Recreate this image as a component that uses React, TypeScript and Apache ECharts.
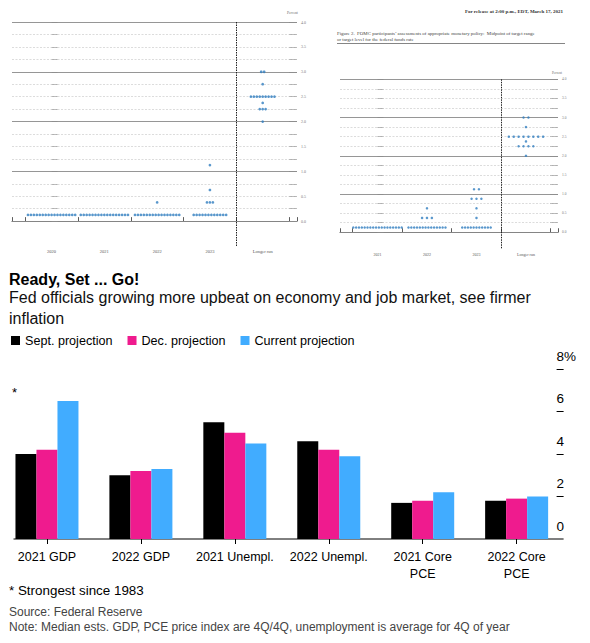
import React, { useEffect, useRef } from 'react';
import * as echarts from 'echarts';

// ---------- Top-left dot plot (December 2020 projections) ----------
const dec2020Categories = ['2020', '2021', '2022', '2023', 'Longer run'];
// [category index, rate midpoint, number of participants]
const dec2020Dots: number[][] = [
  [0, 0.125, 17],
  [1, 0.125, 17],
  [2, 0.125, 16], [2, 0.375, 1],
  [3, 0.125, 12], [3, 0.375, 3], [3, 0.625, 1], [3, 1.125, 1],
  [4, 2.0, 1], [4, 2.25, 3], [4, 2.375, 1], [4, 2.5, 9], [4, 2.75, 1], [4, 3.0, 2],
];

// ---------- Top-right dot plot (March 2021 projections) ----------
const mar2021Categories = ['2021', '2022', '2023', 'Longer run'];
const mar2021Dots: number[][] = [
  [0, 0.125, 18],
  [1, 0.125, 14], [1, 0.375, 3], [1, 0.625, 1],
  [2, 0.125, 11], [2, 0.375, 1], [2, 0.625, 1], [2, 0.875, 3], [2, 1.125, 2],
  [3, 2.0, 1], [3, 2.25, 4], [3, 2.375, 1], [3, 2.5, 8], [3, 2.75, 1], [3, 3.0, 2],
];

const rateTicks = [0, 0.25, 0.5, 0.75, 1, 1.25, 1.5, 1.75, 2, 2.25, 2.5, 2.75, 3, 3.25, 3.5, 3.75, 4];
const rateLabels = [0, 0.5, 1, 1.5, 2, 2.5, 3, 3.5, 4];

// ---------- Bar chart ----------
const barCategories = ['2021 GDP', '2022 GDP', '2021 Unempl.', '2022 Unempl.', '2021 Core\nPCE', '2022 Core\nPCE'];
const septProjection = [4.0, 3.0, 5.5, 4.6, 1.7, 1.8];
const decProjection = [4.2, 3.2, 5.0, 4.2, 1.8, 1.9];
const currentProjection = [6.5, 3.3, 4.5, 3.9, 2.2, 2.0];
const barTicks = [0, 2, 4, 6, 8];

const SANS = "'Liberation Sans', Arial, Helvetica, sans-serif";
const SERIF = "'Liberation Serif', 'Times New Roman', serif";
const DOT_BLUE = '#2f7dbf';

function spreadDots(rows: number[][], spacing: (n: number) => number) {
  const out: number[][] = [];
  rows.forEach(([cat, rate, n]) => {
    const sp = spacing(n);
    for (let i = 0; i < n; i++) out.push([cat + (i - (n - 1) / 2) * sp, rate]);
  });
  return out;
}

function gridLines(extra: any[]) {
  return rateTicks
    .map((v) => ({
      yAxis: v,
      lineStyle: Number.isInteger(v)
        ? { type: 'solid', color: '#8a8a8a', width: 0.9 }
        : { type: [2, 1.5], color: '#c4c4c4', width: 0.6 },
    }))
    .concat(extra);
}

function dotPlotAxes(gi: number, xMin: number, xMax: number, yMin: number, cats: string[], fs: number, xOff: number) {
  const cellEdges: number[] = [];
  for (let i = 0; i <= cats.length; i++) cellEdges.push(i - 0.5);
  const xAxis = {
    type: 'value', gridIndex: gi, min: xMin, max: xMax,
    axisLine: { show: true, lineStyle: { color: '#333', width: 0.8 } },
    axisTick: { show: true, inside: true, length: 4, customValues: [xMin, ...cellEdges, xMax], lineStyle: { color: '#333', width: 0.8 } },
    axisLabel: {
      show: true, customValues: cats.map((_, i) => i), formatter: (v: number) => cats[Math.round(v)] ?? '',
      fontSize: fs, color: '#555', fontFamily: SERIF, margin: xOff,
    },
    splitLine: { show: false },
  };
  const yLeft = {
    type: 'value', gridIndex: gi, min: yMin, max: 4, position: 'left',
    axisLine: { show: false },
    axisTick: { show: true, inside: true, length: 6, customValues: rateTicks, lineStyle: { color: '#9a9a9a', width: 0.8 } },
    axisLabel: { show: false },
    splitLine: { show: false },
  };
  const yRight = {
    type: 'value', gridIndex: gi, min: yMin, max: 4, position: 'right',
    axisLine: { show: false },
    axisTick: { show: true, inside: true, length: 8, customValues: rateTicks, lineStyle: { color: '#9a9a9a', width: 0.8 } },
    axisLabel: {
      show: true, customValues: rateLabels, formatter: (v: number) => v.toFixed(1),
      fontSize: fs - 0.5, color: '#777', fontFamily: SERIF, margin: 4,
    },
    splitLine: { show: false },
  };
  return { xAxis, yLeft, yRight };
}

export default function App() {
  const ref = useRef<HTMLDivElement>(null);
  useEffect(() => {
    if (!ref.current) return;
    const chart = echarts.init(ref.current, null, { renderer: 'svg' });

    const p1 = dotPlotAxes(0, -0.75, 4.65, -0.5, dec2020Categories, 4.5, 3);
    const p2 = dotPlotAxes(1, -0.757, 3.647, -0.42, mar2021Categories, 4, 4);

    const dots1 = spreadDots(dec2020Dots, () => 0.0559);
    const dots2 = spreadDots(mar2021Dots, (n) => (n > 8 ? 0.0575 : 0.099));

    const option: any = {
      animation: false,
      backgroundColor: '#fff',
      textStyle: { fontFamily: SANS },
      grid: [
        { left: 12, top: 22, width: 285, height: 224 },
        { left: 340, top: 79.3, width: 218, height: 169 },
        { left: 0, top: 369, width: 563.6, height: 170 },
      ],
      xAxis: [
        p1.xAxis,
        p2.xAxis,
        {
          type: 'category', gridIndex: 2, data: barCategories,
          axisLine: { show: false },
          axisTick: { show: true, alignWithLabel: true, length: 5, lineStyle: { color: '#000', width: 1 } },
          axisLabel: { interval: 0, fontSize: 12.5, color: '#000', lineHeight: 17, margin: 9, fontFamily: SANS },
        },
      ],
      yAxis: [
        p1.yLeft, p1.yRight, p2.yLeft, p2.yRight,
        {
          type: 'value', gridIndex: 2, min: 0, max: 8, interval: 2, position: 'right',
          axisLine: { show: false },
          axisTick: { show: true, inside: true, length: 7, customValues: barTicks.slice(1), lineStyle: { color: '#000', width: 1 } },
          axisLabel: {
            inside: true, align: 'left', margin: 7, verticalAlign: 'bottom', padding: [0, 0, 6, 0],
            fontSize: 13.5, color: '#000', fontFamily: SANS,
            formatter: (v: number) => (v === 8 ? '8%' : String(v)),
          },
          splitLine: { show: false },
        },
      ],
      legend: {
        left: 11, top: 334, padding: 0, icon: 'rect', itemWidth: 9, itemHeight: 9, itemGap: 15,
        textStyle: { fontSize: 12.6, color: '#000', fontFamily: SANS },
        data: ['Sept. projection', 'Dec. projection', 'Current projection'],
        selectedMode: false,
      },
      series: [
        {
          type: 'line', xAxisIndex: 0, yAxisIndex: 0, data: [], z: 1, silent: true,
          markLine: {
            silent: true, symbol: 'none', label: { show: false }, animation: false,
            data: gridLines([{ xAxis: 3.5, lineStyle: { type: [1.5, 1], color: '#222', width: 1 } }]),
          },
        },
        {
          type: 'scatter', xAxisIndex: 0, yAxisIndex: 0, data: dots1, z: 5,
          symbolSize: 2.7, itemStyle: { color: DOT_BLUE }, silent: true,
        },
        {
          type: 'line', xAxisIndex: 1, yAxisIndex: 2, data: [], z: 1, silent: true,
          markLine: {
            silent: true, symbol: 'none', label: { show: false }, animation: false,
            data: gridLines([{ xAxis: 2.5, lineStyle: { type: [1.5, 1], color: '#222', width: 1 } }]),
          },
        },
        {
          type: 'scatter', xAxisIndex: 1, yAxisIndex: 2, data: dots2, z: 5,
          symbolSize: 2.5, itemStyle: { color: DOT_BLUE }, silent: true,
        },
        {
          name: 'Sept. projection', type: 'bar', xAxisIndex: 2, yAxisIndex: 4, data: septProjection,
          barWidth: 21, barGap: '0%', itemStyle: { color: '#000000' },
        },
        {
          name: 'Dec. projection', type: 'bar', xAxisIndex: 2, yAxisIndex: 4, data: decProjection,
          barWidth: 21, barGap: '0%', itemStyle: { color: '#ef1b8e' },
        },
        {
          name: 'Current projection', type: 'bar', xAxisIndex: 2, yAxisIndex: 4, data: currentProjection,
          barWidth: 21, barGap: '0%', itemStyle: { color: '#41acff' },
        },
      ],
      graphic: [
        // dot plot 1 header
        { type: 'text', left: 287, top: 11, style: { text: 'Percent', fontSize: 3.6, fill: '#666', fontFamily: SERIF } },
        // dot plot 2 header
        {
          type: 'text', x: 563, y: 11.7,
          style: { text: 'For release at 2:00 p.m., EDT, March 17, 2021', fontSize: 5, fontWeight: 'bold', fill: '#333', fontFamily: SERIF, align: 'right', verticalAlign: 'middle' },
        },
        {
          type: 'text', x: 337, y: 33,
          style: { text: 'Figure 2.  FOMC participants\u2019 assessments of appropriate monetary policy:  Midpoint of target range', fontSize: 4.9, fill: '#444', fontFamily: SERIF, verticalAlign: 'middle' },
        },
        {
          type: 'text', x: 337, y: 39.5,
          style: { text: 'or target level for the federal funds rate', fontSize: 4.9, fill: '#444', fontFamily: SERIF, verticalAlign: 'middle' },
        },
        { type: 'line', shape: { x1: 337, y1: 43.5, x2: 565, y2: 43.5 }, style: { stroke: '#666', lineWidth: 0.8 } },
        { type: 'text', left: 552, top: 71, style: { text: 'Percent', fontSize: 3.3, fill: '#666', fontFamily: SERIF } },

        // bar chart texts
        { type: 'text', x: 9, y: 279, style: { text: 'Ready, Set ... Go!', fontSize: 16, fontWeight: 'bold', fill: '#000', fontFamily: SANS, verticalAlign: 'middle' } },
        { type: 'text', x: 9, y: 297.5, style: { text: 'Fed officials growing more upbeat on economy and job market, see firmer', fontSize: 16, fill: '#111', fontFamily: SANS, verticalAlign: 'middle' } },
        { type: 'text', x: 9, y: 318, style: { text: 'inflation', fontSize: 16, fill: '#111', fontFamily: SANS, verticalAlign: 'middle' } },
        { type: 'text', x: 12, y: 392, style: { text: '*', fontSize: 13, fill: '#000', fontFamily: SANS, verticalAlign: 'middle' } },
        { type: 'line', shape: { x1: 13.5, y1: 539, x2: 563.6, y2: 539 }, style: { stroke: '#000', lineWidth: 1 } },
        { type: 'text', x: 9, y: 590, style: { text: '* Strongest since 1983', fontSize: 13.4, fill: '#000', fontFamily: SANS, verticalAlign: 'middle' } },
        { type: 'text', x: 9, y: 611.7, style: { text: 'Source: Federal Reserve', fontSize: 12, fill: '#444', fontFamily: SANS, verticalAlign: 'middle' } },
        { type: 'text', x: 9, y: 626.7, style: { text: 'Note: Median ests. GDP, PCE price index are 4Q/4Q, unemployment is average for 4Q of year', fontSize: 12, fill: '#444', fontFamily: SANS, verticalAlign: 'middle' } },
      ],
    };

    chart.setOption(option);
    return () => chart.dispose();
  }, []);

  return (
    <div
      ref={ref}
      style={{ position: 'fixed', left: 0, top: 0, width: 590, height: 643, background: '#fff' }}
    />
  );
}
